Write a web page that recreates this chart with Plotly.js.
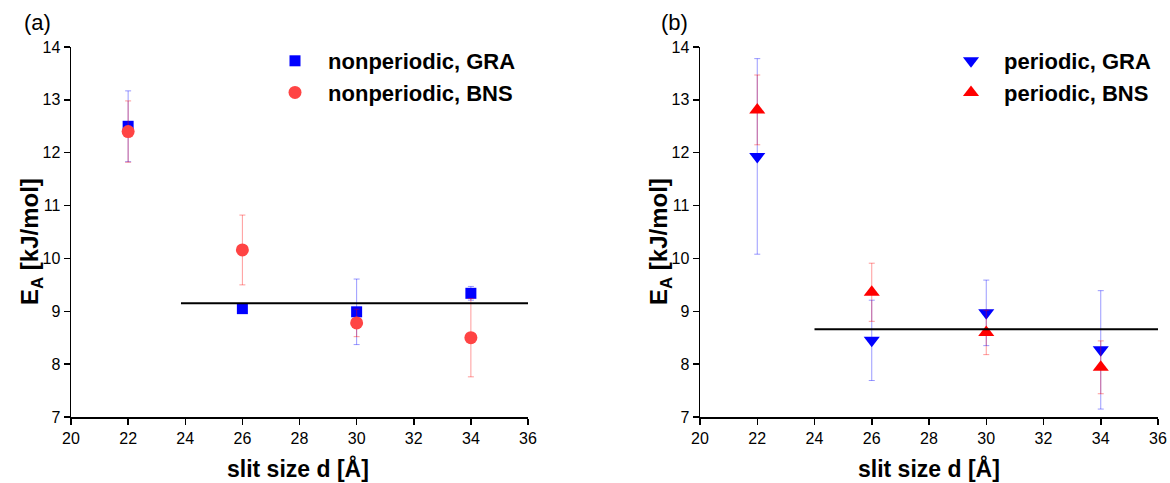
<!DOCTYPE html>
<html>
<head>
<meta charset="utf-8">
<script src="https://cdn.plot.ly/plotly-3.0.1.min.js"></script>
<style>html,body{margin:0;padding:0;background:#fff;}#chart{width:1170px;height:483px;}</style>
</head>
<body>
<div id="chart"></div>
<script>
// slit sizes [Å]
const slit = [22, 26, 30, 34];

// (a) nonperiodic
const npGRA = [12.5, 9.05, 8.99, 9.34];
const npGRAerr = [0.67, 0.05, 0.62, 0.13];
const npBNS = [12.4, 10.16, 8.78, 8.5];
const npBNSerr = [0.58, 0.66, 0.26, 0.74];
const avgA_x = [23.85, 36];
const avgA_y = [9.15, 9.15];

// (b) periodic
const pGRA = [11.93, 8.45, 8.97, 8.27];
const pGRAerr = [1.85, 0.76, 0.62, 1.12];
const pBNS = [12.81, 9.36, 8.6, 7.94];
const pBNSerr = [0.66, 0.55, 0.42, 0.5];
const avgB_x = [24, 36];
const avgB_y = [8.66, 8.66];

const FONT = 'Liberation Sans, Arial, sans-serif';
const blue = '#0000ff', red = '#ff4444', red2 = '#ff0000';
const blueErr = 'rgba(0,0,255,0.4)', redErr = 'rgba(255,0,0,0.4)';
const NB = '\u00a0';

function err(arr, c) {
  return {type: 'data', array: arr, visible: true, color: c, thickness: 1, width: 3};
}

const traces = [
  {x: slit, y: npGRA, error_y: err(npGRAerr, blueErr), mode: 'markers', type: 'scatter',
   name: NB + 'nonperiodic, GRA', legendgroup: 'a1', legend: 'legend',
   marker: {symbol: 'square', size: 11, color: blue}, xaxis: 'x', yaxis: 'y'},
  {x: slit, y: npBNS, error_y: err(npBNSerr, redErr), mode: 'markers', type: 'scatter',
   name: NB + 'nonperiodic, BNS', legendgroup: 'a2', legend: 'legend',
   marker: {symbol: 'circle', size: 13, color: red}, xaxis: 'x', yaxis: 'y'},
  {x: avgA_x, y: avgA_y, mode: 'lines', type: 'scatter', showlegend: false,
   line: {color: '#000', width: 2}, xaxis: 'x', yaxis: 'y', hoverinfo: 'skip'},
  {x: slit, y: pGRA, error_y: err(pGRAerr, blueErr), mode: 'markers', type: 'scatter',
   name: NB + 'periodic, GRA', legendgroup: 'b1', legend: 'legend2',
   marker: {symbol: 'triangle-down', size: 14, color: blue}, xaxis: 'x2', yaxis: 'y2'},
  {x: slit, y: pBNS, error_y: err(pBNSerr, redErr), mode: 'markers', type: 'scatter',
   name: NB + 'periodic, BNS', legendgroup: 'b2', legend: 'legend2',
   marker: {symbol: 'triangle-up', size: 14, color: red2}, xaxis: 'x2', yaxis: 'y2'},
  {x: avgB_x, y: avgB_y, mode: 'lines', type: 'scatter', showlegend: false,
   line: {color: '#000', width: 2}, xaxis: 'x2', yaxis: 'y2', hoverinfo: 'skip'}
];

const W = 1170, H = 483;
const px = v => v / W, py = v => (H - v) / H;

function xax(d, anchor) {
  return {domain: d, anchor: anchor, range: [20, 36], dtick: 2, tick0: 20,
    showgrid: false, zeroline: false, showline: true, linecolor: '#000', linewidth: 1.5,
    ticks: 'outside', ticklen: 6, tickwidth: 1.5, tickcolor: '#000',
    tickfont: {family: FONT, size: 16, color: '#000'}, automargin: false};
}
function yax(anchor) {
  return {domain: [py(417), py(47)], anchor: anchor, range: [7, 14], dtick: 1, tick0: 7,
    showgrid: false, zeroline: false, showline: true, linecolor: '#000', linewidth: 1.5,
    ticks: 'outside', ticklen: 6, tickwidth: 1.5, tickcolor: '#000',
    tickfont: {family: FONT, size: 16, color: '#000'}, automargin: false};
}

const legFont = {family: FONT, size: 22, color: '#000', weight: 'bold'};

function ann(text, x, y, size, angle) {
  return {text: text, x: px(x), y: py(y), xref: 'paper', yref: 'paper', showarrow: false,
    xanchor: 'center', yanchor: 'middle', textangle: angle || 0,
    font: {family: FONT, size: size, color: '#000'}};
}

const layout = {
  width: W, height: H,
  margin: {l: 0, r: 0, t: 0, b: 0},
  paper_bgcolor: '#fff', plot_bgcolor: '#fff',
  showlegend: true,
  xaxis: xax([px(71), px(528)], 'y'),
  yaxis: yax('x'),
  xaxis2: xax([px(700), px(1158)], 'y2'),
  yaxis2: yax('x2'),
  legend: {x: px(268), y: py(40), xanchor: 'left', yanchor: 'top', bgcolor: 'rgba(0,0,0,0)',
    font: legFont, tracegroupgap: 0, itemwidth: 44},
  legend2: {x: px(944), y: py(40), xanchor: 'left', yanchor: 'top', bgcolor: 'rgba(0,0,0,0)',
    font: legFont, tracegroupgap: 0, itemwidth: 44},
  annotations: [
    ann('(a)', 37, 22, 22),
    ann('(b)', 674, 22, 22),
    ann('<b>E<sub>A</sub> [kJ/mol]</b>', 31, 242, 24, -90),
    ann('<b>E<sub>A</sub> [kJ/mol]</b>', 660, 242, 24, -90),
    ann('<b>slit size d [Å]</b>', 298, 468, 23),
    ann('<b>slit size d [Å]</b>', 929, 468, 23)
  ]
};

Plotly.newPlot('chart', traces, layout, {displayModeBar: false, staticPlot: true});
</script>
</body>
</html>
